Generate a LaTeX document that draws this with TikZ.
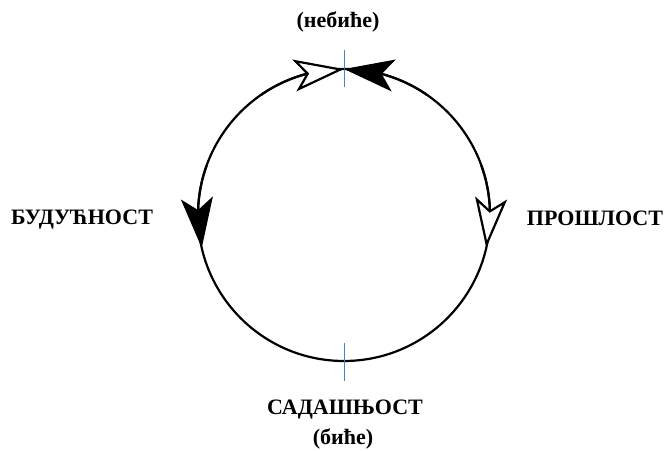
\documentclass[tikz,border=0pt]{standalone}
\usepackage{fontspec}
\setmainfont{Liberation Serif}
\usepackage{tikz}
\usetikzlibrary{arrows.meta,bending,positioning,calc}
\definecolor{tickblue}{HTML}{5F7F9A}

\begin{document}
\begin{tikzpicture}[x=0.5pt, y=0.5pt]
\tikzset{lbl/.style={inner sep=0pt, font=\bfseries\fontsize{11}{13}\selectfont},
  ring/.style={line width=1.1pt},
  tick/.style={tickblue, line width=0.5pt},
  fullhead/.style={-{Stealth[length=25pt, width=16pt, inset=6pt, flex]}},
  openhead/.style={-{Stealth[length=25pt, width=16pt, inset=6pt, open, fill=white, flex]}}}
\useasboundingbox (0,0) rectangle (664,450);
\coordinate (c) at (344,235);
\node[lbl] (nebice) at (338,428) {(небиће)};
\node[lbl] (buducnost) at (82,230) {БУДУЋНОСТ};
\node[lbl] (proslost) at (595,232) {ПРОШЛОСТ};
\node[lbl] (sadasnjost) at (345,40) {САДАШЊОСТ};
\node[lbl] (bice) at (343,11) {(биће)};
% circle of time
\draw[ring] (c) circle[radius=146];
% ticks at top and bottom
\draw[tick] ($(c)+(0,128)$) -- ($(c)+(0,165)$);
\draw[tick] ($(c)+(0,-128)$) -- ($(c)+(0,-166)$);
% arrow heads on the circle
\draw[ring, openhead] ($(c)+(125:146)$) arc[start angle=125, end angle=90, radius=146];
\draw[ring, fullhead] ($(c)+(55:146)$) arc[start angle=55, end angle=90, radius=146];
\draw[ring, fullhead] ($(c)+(160:146)$) arc[start angle=160, end angle=193, radius=146];
\draw[ring, openhead] ($(c)+(20:146)$) arc[start angle=20, end angle=-13, radius=146];
\end{tikzpicture}
\end{document}
